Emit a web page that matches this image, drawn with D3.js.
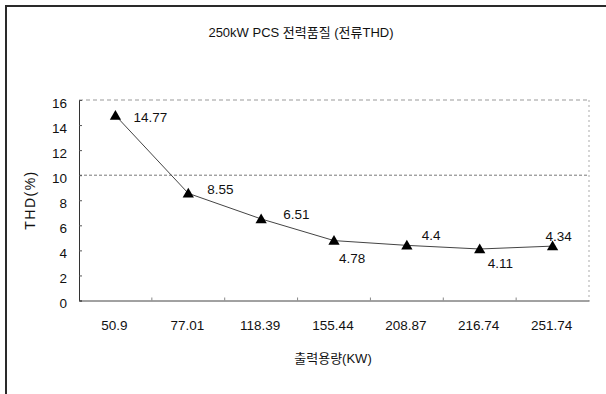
<!DOCTYPE html>
<html>
<head>
<meta charset="utf-8">
<script src="https://cdn.jsdelivr.net/npm/d3@7"></script>
<style>
  html, body { margin: 0; padding: 0; background: #fff; }
  svg { display: block; }
  text { font-family: "Liberation Sans", Arial, "Noto Sans CJK KR", sans-serif; fill: #111; }
</style>
</head>
<body>
<svg id="chart" width="606" height="394"></svg>
<script>
// ---- data ----
const categories = ["50.9", "77.01", "118.39", "155.44", "208.87", "216.74", "251.74"];
const thdValues = [14.77, 8.55, 6.51, 4.78, 4.4, 4.11, 4.34];
const yTicks = [0, 2, 4, 6, 8, 10, 12, 14, 16];
const chartTitle = "250kW PCS 전력품질 (전류THD)";
const xTitle = "출력용량(KW)";
const yTitle = "THD(%)";

// label placement offsets (layout only)
const labelOffsets = [[18, 2], [19, -4], [22, -4], [5, 18], [15, -10], [8, 15], [-7, -10]];

const W = 606, H = 394;
const margin = { left: 79, right: 17, top: 100, bottom: 93.5 };
const svg = d3.select("#chart");

// outer border
svg.append("path")
  .attr("d", `M6,${H} L6,6 L${W},6`)
  .attr("fill", "none").attr("stroke", "#2a2a2a").attr("stroke-width", 2);

const x = d3.scaleBand().domain(categories).range([margin.left, W - margin.right]).padding(0);
const y = d3.scaleLinear().domain([0, 16]).range([H - margin.bottom, margin.top]);
const cx = d => x(d) + x.bandwidth() / 2;

const x0 = margin.left, x1 = W - margin.right;

// plot frame (top & right dashed light)
svg.append("line").attr("x1", x0).attr("x2", x1).attr("y1", y(16)).attr("y2", y(16))
  .attr("stroke", "#999").attr("stroke-dasharray", "4,3");
svg.append("line").attr("x1", x1).attr("x2", x1).attr("y1", y(16)).attr("y2", y(0))
  .attr("stroke", "#aaa").attr("stroke-dasharray", "2,3");
// gridline at 10
svg.append("line").attr("x1", x0).attr("x2", x1).attr("y1", y(10)).attr("y2", y(10))
  .attr("stroke", "#777").attr("stroke-dasharray", "3,2");

// y axis
const yAxis = d3.axisRight(y).tickValues(yTicks).tickSize(3).tickFormat("");
const gy = svg.append("g").attr("transform", `translate(${x0},0)`).call(yAxis);
gy.select(".domain").attr("stroke", "#333");
gy.selectAll(".tick line").attr("stroke", "#555");

svg.append("g").selectAll("text").data(yTicks).join("text")
  .attr("x", 67).attr("y", d => y(d) + 3)
  .attr("text-anchor", "end").attr("dominant-baseline", "central")
  .attr("font-size", 13.5).text(d => d);

// x axis
const gx = svg.append("g").attr("transform", `translate(0,${y(0)})`)
  .call(d3.axisTop(x).tickSize(0).tickFormat(""));
gx.select(".domain").attr("stroke", "#444");
svg.append("g").selectAll("line").data(categories.slice(1)).join("line")
  .attr("x1", d => x(d)).attr("x2", d => x(d))
  .attr("y1", y(0)).attr("y2", y(0) - 3).attr("stroke", "#888");

svg.append("g").selectAll("text").data(categories).join("text")
  .attr("x", d => cx(d) - 1).attr("y", 325.5)
  .attr("text-anchor", "middle").attr("dominant-baseline", "central")
  .attr("font-size", 13.5).text(d => d);

// line
const line = d3.line()
  .x((d, i) => cx(categories[i]))
  .y(d => y(d))
  .curve(d3.curveLinear);
svg.append("path").datum(thdValues)
  .attr("d", line).attr("fill", "none")
  .attr("stroke", "#444").attr("stroke-width", 1);

// markers
const tri = d3.symbol().type(d3.symbolTriangle).size(55);
svg.append("g").selectAll("path").data(thdValues).join("path")
  .attr("d", tri)
  .attr("transform", (d, i) => `translate(${cx(categories[i])},${y(d) + 1})`)
  .attr("fill", "#000");

// data labels
svg.append("g").selectAll("text").data(thdValues).join("text")
  .attr("x", (d, i) => cx(categories[i]) + labelOffsets[i][0])
  .attr("y", (d, i) => y(d) + labelOffsets[i][1])
  .attr("dominant-baseline", "central")
  .attr("font-size", 13.5).text(d => d);

// titles
svg.append("text").attr("x", 301).attr("y", 32)
  .attr("text-anchor", "middle").attr("dominant-baseline", "central")
  .attr("font-size", 13).text(chartTitle);
svg.append("text").attr("x", 333).attr("y", 358.5)
  .attr("text-anchor", "middle").attr("dominant-baseline", "central")
  .attr("font-size", 13).text(xTitle);
svg.append("text").attr("transform", "translate(30,200) rotate(-90)")
  .attr("text-anchor", "middle").attr("dominant-baseline", "central")
  .attr("font-size", 14).attr("letter-spacing", 1.5).text(yTitle);
</script>
</body>
</html>
